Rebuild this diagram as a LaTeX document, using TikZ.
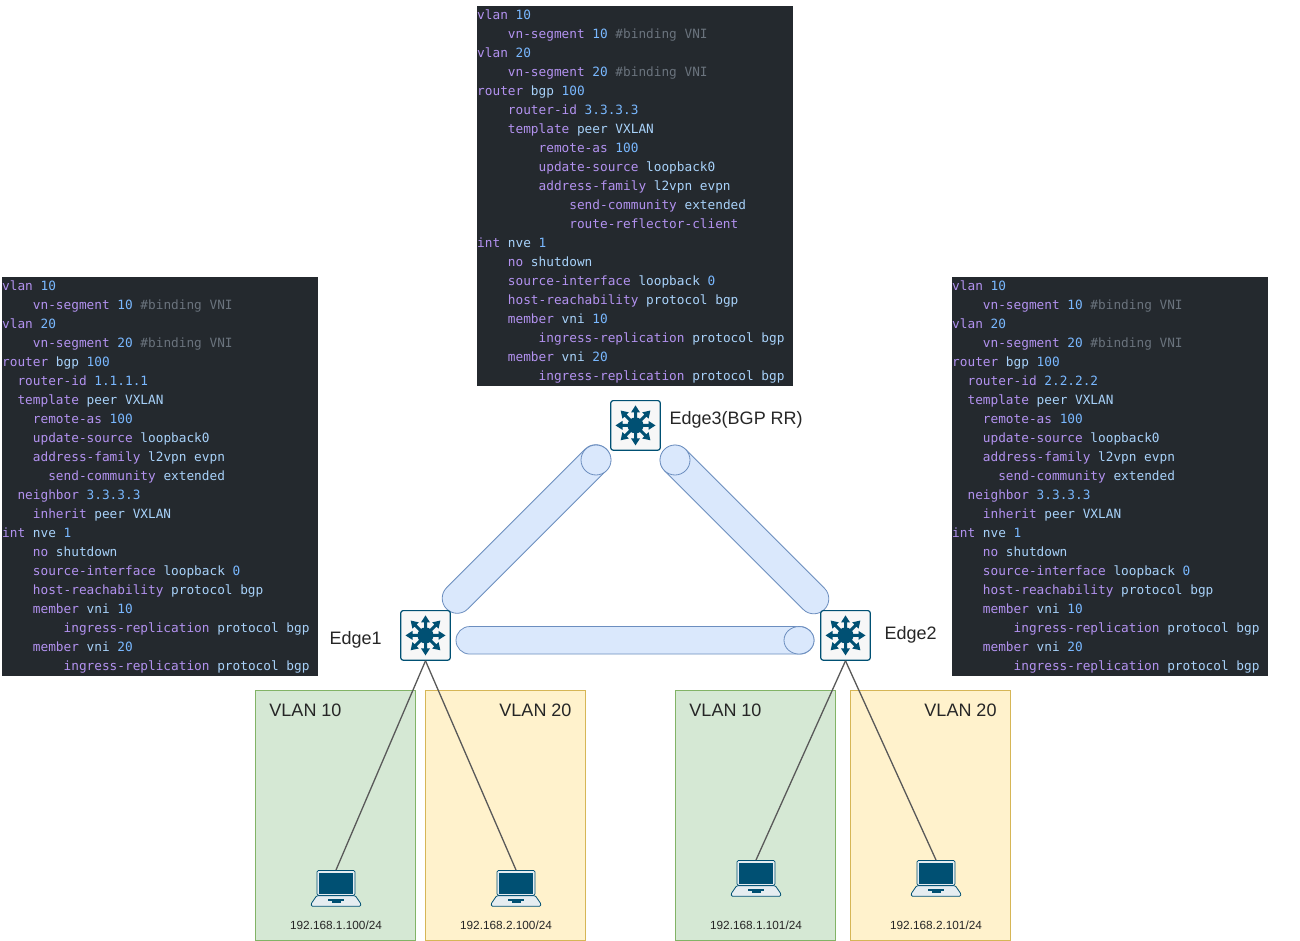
\documentclass[tikz,border=0pt]{standalone}
\usepackage{fontspec}
\setmainfont{Liberation Sans}
\newfontfamily\codefont{DejaVu Sans Mono}
\usetikzlibrary{shapes.misc}
\definecolor{codebg}{HTML}{24292E}
\definecolor{kwc}{HTML}{B392F0}
\definecolor{numc}{HTML}{79B8FF}
\definecolor{idc}{HTML}{A8D2FA}
\definecolor{cmc}{HTML}{6A737D}
\definecolor{ink}{HTML}{005073}
\newcommand\K[1]{\textcolor{kwc}{#1}}
\newcommand\N[1]{\textcolor{numc}{#1}}
\newcommand\I[1]{\textcolor{idc}{#1}}
\newcommand\C[1]{\textcolor{cmc}{#1}}
\newcommand\ind[1]{\hspace*{\dimexpr #1\dimexpr 7.68pt\relax\relax}}
\newcommand\vlans{%
\spaceskip=7.68pt\relax\xspaceskip=7.68pt\relax
\K{vlan} \N{10}\\
\ind{4}\K{vn-segment} \N{10} \C{\#binding VNI}\\
\K{vlan} \N{20}\\
\ind{4}\K{vn-segment} \N{20} \C{\#binding VNI}\\
\K{router} \I{bgp} \N{100}\\}
\newcommand\nvetail[1]{%
\ind{#1}\K{no} \I{shutdown}\\
\ind{#1}\K{source-interface} \I{loopback} \N{0}\\
\ind{#1}\K{host-reachability} \I{protocol bgp}\\
\ind{#1}\K{member} \I{vni} \N{10}\\
\ind{\numexpr #1+4\relax}\K{ingress-replication} \I{protocol bgp}\\
\ind{#1}\K{member} \I{vni} \N{20}\\
\ind{\numexpr #1+4\relax}\K{ingress-replication} \I{protocol bgp}}
\newcommand\edgecode[1]{\vlans
\ind{2}\K{router-id} \N{#1}\\
\ind{2}\K{template} \I{peer VXLAN}\\
\ind{4}\K{remote-as} \N{100}\\
\ind{4}\K{update-source} \I{loopback0}\\
\ind{4}\K{address-family} \I{l2vpn evpn}\\
\ind{6}\K{send-community} \I{extended}\\
\ind{2}\K{neighbor} \N{3.3.3.3}\\
\ind{4}\K{inherit} \I{peer VXLAN}\\
\K{int} \I{nve} \N{1}\\
\nvetail{4}}
\newcommand\rrcode{\vlans
\ind{4}\K{router-id} \N{3.3.3.3}\\
\ind{4}\K{template} \I{peer VXLAN}\\
\ind{8}\K{remote-as} \N{100}\\
\ind{8}\K{update-source} \I{loopback0}\\
\ind{8}\K{address-family} \I{l2vpn evpn}\\
\ind{12}\K{send-community} \I{extended}\\
\ind{12}\K{route-reflector-client}\\
\K{int} \I{nve} \N{1}\\
\nvetail{4}}
\tikzset{
  x=1pt,y=-1pt,
  codebg/.style={fill=codebg,inner sep=0pt,anchor=north west,minimum width=316pt},
  codetext/.style={inner sep=0pt,text width=316pt,align=left,anchor=north west,
    font=\codefont\fontsize{12.76}{19}\selectfont},
  tubebody/.style={draw=tubeS,fill=tubeF,rounded rectangle,inner sep=0pt,line width=0.8pt},
  tubeend/.style={draw=tubeS,fill=tubeF,circle,inner sep=0pt,line width=0.8pt},
  vlanG/.style={draw=greenS,fill=greenF,minimum width=160pt,minimum height=250pt,inner sep=0pt,anchor=north west,line width=0.8pt},
  vlanY/.style={draw=yellowS,fill=yellowF,minimum width=160pt,minimum height=250pt,inner sep=0pt,anchor=north west,line width=0.8pt},
  swbox/.style={draw=ink,fill=white!97!black,rounded corners=2.5pt,minimum size=49.6pt,inner sep=0pt,line width=1.2pt},
  lbl/.style={font=\fontsize{18}{20}\selectfont,text=black!85,inner sep=0pt},
  ip/.style={font=\fontsize{11.8}{14}\selectfont,text=black!85,inner sep=0pt},
  link/.style={draw=black!65,line width=1.3pt},
}
\definecolor{tubeF}{HTML}{DAE8FC}\definecolor{tubeS}{HTML}{6C8EBF}
\definecolor{greenF}{HTML}{D5E8D4}\definecolor{greenS}{HTML}{82B366}
\definecolor{yellowF}{HTML}{FFF2CC}\definecolor{yellowS}{HTML}{D6B656}
\newcommand\swicon[1]{%
  \fill[ink] (#1.center) circle[radius=8];
  \foreach \a/\l in {0/20,90/20,180/20,270/20,45/21,135/21,225/21,315/21}{
    \fill[ink,shift={(#1.center)},rotate=\a] (5,-1.5) -- (\l-7,-1.5) -- (\l-7,-4.5) -- (\l,0) -- (\l-7,4.5) -- (\l-7,1.5) -- (5,1.5) -- cycle;
  }}
\newcommand\laptop[3]{%
  \node[name=#1,draw=ink,fill=white!90!ink,rounded corners=1.5pt,minimum width=38pt,minimum height=25pt,inner sep=0pt,line width=0.8pt,anchor=north] at (#2,#3) {};
  \fill[ink] ([xshift=2.8pt,yshift=-2.6pt]#1.north west) rectangle ([xshift=-2.8pt,yshift=2.2pt]#1.south east);
  \draw[ink,fill=white!90!ink,line width=0.8pt,rounded corners=1pt] ([xshift=0pt]#1.south west) -- ([xshift=-5.5pt,yshift=-8pt]#1.south west) -- ([xshift=-5pt,yshift=-10.5pt]#1.south west) -- ([xshift=5pt,yshift=-10.5pt]#1.south east) -- ([xshift=5.5pt,yshift=-8pt]#1.south east) -- (#1.south east) -- cycle;
  \fill[ink] ([xshift=-8pt,yshift=-3pt]#1.south) rectangle ([xshift=8pt,yshift=-5.5pt]#1.south);
  \fill[ink] ([xshift=-4.5pt,yshift=-5.5pt]#1.south) rectangle ([xshift=4.5pt,yshift=-7.5pt]#1.south);
}
\begin{document}
\begin{tikzpicture}
\useasboundingbox (0,0) rectangle (1300,941);
\fill[white] (0,0) rectangle (1300,941);
\node[codebg,minimum height=380pt] (rrbg) at (477,6) {};
\node[codebg,minimum height=399pt] (e1bg) at (2,277) {};
\node[codebg,minimum height=399pt] (e2bg) at (952,277) {};
\node[codetext] (rrcfg) at (477,10) {\rrcode};
\node[codetext] (e1cfg) at (2,281) {\edgecode{1.1.1.1}};
\node[codetext] (e2cfg) at (952,281) {\edgecode{2.2.2.2}};
% tunnels
\node[tubebody,minimum width=226pt,minimum height=30pt,rotate=45] (t1) at (526.5,529) {};
\node[tubeend,minimum size=30pt] (t1end) at (596,460) {};
\node[tubebody,minimum width=226pt,minimum height=30pt,rotate=-45] (t2) at (744.5,529.5) {};
\node[tubeend,minimum size=30pt] (t2end) at (675,460) {};
\node[tubebody,minimum width=358pt,minimum height=27.5pt] (t3) at (635,640.3) {};
\draw[tubeS,fill=tubeF,line width=0.8pt] (799,640.3) ellipse[x radius=15,y radius=13.75];
% VLAN zones
\node[vlanG] (z1) at (255,690) {};
\node[vlanY] (z2) at (425,690) {};
\node[vlanG] (z3) at (675,690) {};
\node[vlanY] (z4) at (850,690) {};
\node[lbl] (z1t) at (305.5,710) {VLAN 10};
\node[lbl] (z2t) at (535.5,710) {VLAN 20};
\node[lbl] (z3t) at (725.5,710) {VLAN 10};
\node[lbl] (z4t) at (960.5,710) {VLAN 20};
% switches
\node[swbox] (e3) at (635.5,425.4) {};
\node[swbox] (e1) at (425.5,635.4) {};
\node[swbox] (e2) at (845.5,635.4) {};
\swicon{e3}\swicon{e1}\swicon{e2}
\node[lbl,anchor=west] (e3t) at (669.5,420) {Edge3(BGP RR)};
\node[lbl,anchor=west] (e1t) at (329.5,640) {Edge1};
\node[lbl,anchor=west] (e2t) at (884.5,635) {Edge2};
% laptops
\laptop{h1}{336}{870}
\laptop{h2}{516}{870}
\laptop{h3}{756}{860}
\laptop{h4}{936}{860}
\draw[link] (e1.south) -- (h1.north);
\draw[link] (e1.south) -- (h2.north);
\draw[link] (e2.south) -- (h3.north);
\draw[link] (e2.south) -- (h4.north);
\node[ip] (h1t) at (336,925) {192.168.1.100/24};
\node[ip] (h2t) at (506,925) {192.168.2.100/24};
\node[ip] (h3t) at (756,925) {192.168.1.101/24};
\node[ip] (h4t) at (936,925) {192.168.2.101/24};
\end{tikzpicture}
\end{document}
